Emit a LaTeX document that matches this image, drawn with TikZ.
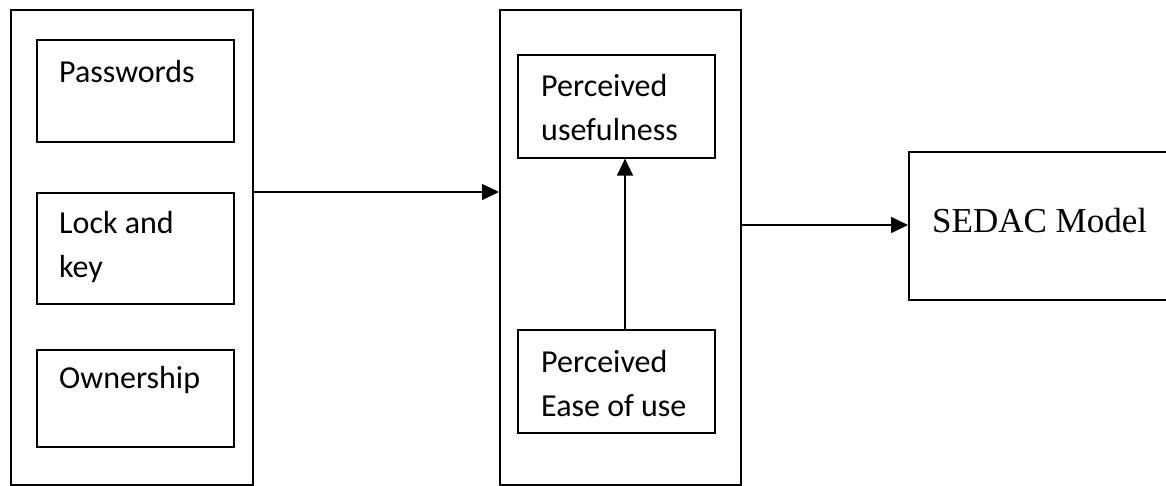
\documentclass[tikz,border=0pt]{standalone}
\usepackage{fontspec}
\setmainfont{Carlito}
\newfontfamily\serifface{Liberation Serif}
\usetikzlibrary{arrows.meta}
\begin{document}
\begin{tikzpicture}[x=1pt,y=-1pt,
  box/.style={draw=black, line width=1.6pt, rectangle, inner sep=0pt, anchor=north west},
  txt/.style={inner sep=0pt, anchor=base west, align=left, font=\fontsize{32}{44}\selectfont},
  conn/.style={line width=1.6pt, -{Triangle[length=17pt,width=16pt]}}]
\useasboundingbox (0,0) rectangle (1166,485);
% left group
\node[box, minimum width=242pt, minimum height=475pt] (left) at (10,9) {};
\node[box, minimum width=197pt, minimum height=102pt] (pw) at (36,39) {};
\node[txt] (pwt) at (59,82) {Passwords};
\node[box, minimum width=197pt, minimum height=111pt] (lk) at (36,192) {};
\node[txt] (lkt) at (59,277) {Lock and\\key};
\node[box, minimum width=197pt, minimum height=97pt] (ow) at (36,349) {};
\node[txt] (owt) at (59,388) {Ownership};
% middle group
\node[box, minimum width=241pt, minimum height=475pt] (mid) at (499,9) {};
\node[box, minimum width=197pt, minimum height=103pt] (pu) at (517,54) {};
\node[txt] (put) at (541,140) {Perceived\\usefulness};
\node[box, minimum width=197pt, minimum height=103pt] (pe) at (517,329) {};
\node[txt] (pet) at (541,416) {Perceived\\Ease of use};
% SEDAC
\node[box, minimum width=262pt, minimum height=148pt] (sd) at (908,151) {};
\node[inner sep=0pt, anchor=base west, font=\serifface\fontsize{35}{40}\selectfont] (sdt) at (932,232) {SEDAC Model};
% connectors
\coordinate (a1) at (252,192);
\coordinate (a2) at (499,192);
\draw[conn] (a1) -- (a2);
\coordinate (b1) at (740,225);
\coordinate (b2) at (908,225);
\draw[conn] (b1) -- (b2);
\draw[conn] (pe.north -| 625,0) -- (pu.south -| 625,0);
\end{tikzpicture}
\end{document}
